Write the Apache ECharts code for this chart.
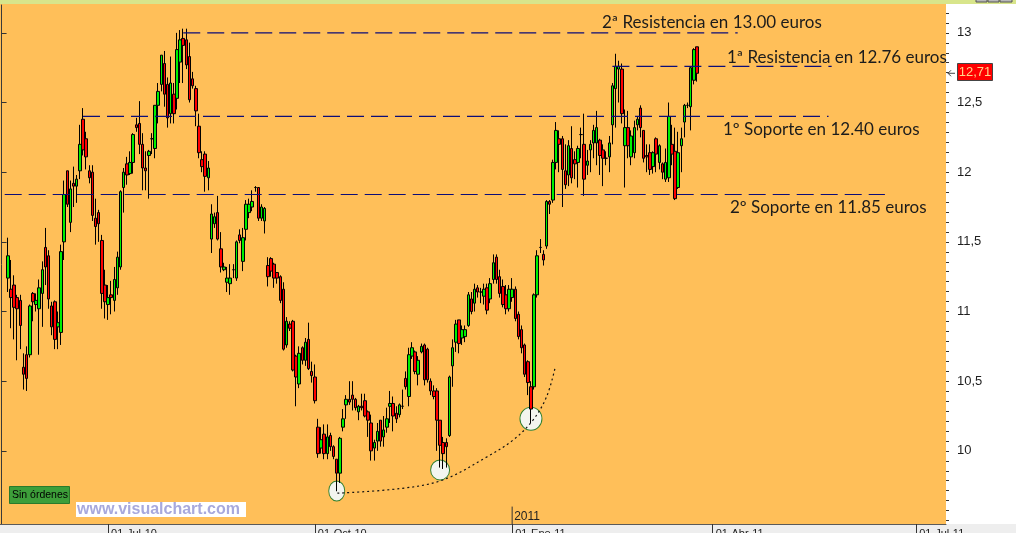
<!DOCTYPE html>
<html><head><meta charset="utf-8">
<script src="https://cdn.jsdelivr.net/npm/echarts@6/dist/echarts.min.js"></script>
<style>html,body{margin:0;padding:0;background:#fff;overflow:hidden}#c{width:1016px;height:533px}</style>
</head><body><div id="c"></div>
<script>
// ---- data ----
const open = [11.24,11.16,11.19,11.10,11.08,10.60,10.69,10.69,11.13,11.05,11.02,11.13,11.46,11.40,11.04,11.07,10.89,10.85,11.50,12.01,
11.64,11.92,11.90,12.01,12.38,12.24,12.01,12.00,11.67,11.71,11.51,11.19,11.05,11.12,11.08,11.17,11.32,11.89,12.06,11.99,
12.07,12.34,12.35,12.20,12.03,12.12,12.24,12.17,12.48,12.63,12.78,12.63,12.42,12.56,12.53,12.79,12.96,12.95,12.83,12.67,
12.60,12.33,12.09,12.13,11.96,11.52,11.63,11.71,11.45,11.30,11.21,11.20,11.30,11.24,11.55,11.36,11.59,11.71,11.75,11.89,
11.89,11.67,11.65,11.33,11.38,11.34,11.28,11.25,11.16,10.76,10.91,10.93,10.68,10.48,10.74,10.65,10.80,10.57,10.53,10.17,
10.02,10.12,9.98,10.11,10.03,9.94,9.84,10.17,10.33,10.37,10.40,10.37,10.28,10.32,10.36,10.28,10.20,10.02,10.07,10.22,
10.10,10.17,10.32,10.34,10.27,10.26,10.32,10.52,10.39,10.68,10.71,10.55,10.71,10.76,10.73,10.50,10.43,10.43,10.22,10.06,
10.06,10.11,10.61,10.78,10.94,10.81,10.82,10.90,11.09,11.06,11.17,11.14,11.11,11.17,11.09,11.23,11.39,11.25,11.18,11.12,
11.02,11.10,11.16,10.98,10.87,10.76,10.64,10.46,10.46,11.12,11.46,11.41,11.47,11.79,11.80,12.07,12.24,12.24,12.01,11.98,
12.17,12.09,12.07,12.27,12.20,12.05,12.16,12.21,12.21,12.23,12.16,12.10,12.11,12.34,12.60,12.74,12.74,12.19,12.32,12.11,
12.14,12.34,12.46,12.30,12.12,12.14,12.04,12.24,12.07,12.06,11.95,11.96,12.20,12.15,11.89,12.19,12.36,12.48,12.47,12.66,
12.90];
const close = [11.40,11.10,11.03,11.02,10.90,10.55,10.52,11.04,11.07,11.08,11.17,11.30,11.32,11.09,10.89,10.80,10.92,11.43,11.84,11.77,
11.88,11.90,11.95,12.20,12.16,12.11,11.96,11.69,11.61,11.63,11.13,11.07,11.10,11.10,11.23,11.39,11.86,12.00,11.98,12.07,
12.27,12.32,12.20,12.03,12.01,12.15,12.24,12.48,12.58,12.84,12.56,12.39,12.64,12.42,12.88,12.95,12.91,12.77,12.52,12.62,
12.44,12.14,12.04,11.97,12.03,11.70,11.68,11.52,11.32,11.32,11.24,11.24,11.30,11.50,11.51,11.53,11.77,11.77,11.79,11.89,
11.67,11.75,11.74,11.25,11.29,11.24,11.24,11.08,10.73,10.93,10.88,10.58,10.53,10.70,10.65,10.78,10.59,10.54,10.36,9.98,
10.08,9.98,10.10,10.03,9.96,9.84,10.09,10.23,10.37,10.35,10.37,10.31,10.32,10.31,10.25,10.22,10.00,10.06,10.14,10.07,
10.15,10.23,10.34,10.25,10.23,10.33,10.32,10.46,10.69,10.74,10.57,10.65,10.75,10.51,10.51,10.43,10.39,10.22,10.04,9.98,
10.03,10.53,10.74,10.91,10.77,10.87,10.87,11.12,11.00,11.16,11.14,11.14,11.16,11.01,11.20,11.35,11.23,11.13,11.05,11.02,
11.16,11.16,10.95,10.82,10.74,10.55,10.49,10.30,11.12,11.40,11.46,11.37,11.79,11.77,12.07,12.30,12.20,12.02,11.91,12.19,
11.96,12.06,12.17,12.27,11.95,12.08,12.20,12.30,12.32,12.12,12.10,12.10,12.21,12.62,12.76,12.76,12.42,12.32,12.19,12.26,
12.32,12.38,12.32,12.10,12.11,12.02,12.14,12.13,12.19,12.00,12.07,12.40,12.13,11.81,12.14,12.24,12.48,12.48,12.75,12.88,
12.71];
const low = [11.14,10.88,10.80,10.65,10.73,10.44,10.43,10.67,10.93,11.00,10.69,10.89,11.19,11.02,10.83,10.73,10.73,10.76,11.37,11.75,
11.57,11.75,11.78,11.95,12.12,12.02,11.92,11.65,11.48,11.50,11.02,10.95,10.94,10.98,11.00,11.12,11.30,11.71,11.91,11.98,
11.99,12.29,12.13,11.87,11.87,11.81,12.13,12.10,12.35,12.58,12.47,12.32,12.35,12.35,12.45,12.64,12.64,12.74,12.50,12.60,
12.33,12.10,12.00,11.86,11.87,11.42,11.60,11.51,11.28,11.29,11.14,11.12,11.24,11.22,11.49,11.29,11.51,11.67,11.72,11.86,
11.65,11.65,11.56,11.18,11.25,11.17,11.20,11.06,10.72,10.74,10.86,10.57,10.32,10.45,10.62,10.61,10.58,10.49,10.34,9.95,
9.98,9.94,9.94,10.00,9.94,9.71,9.77,10.14,10.23,10.33,10.29,10.29,10.22,10.29,10.24,10.10,9.93,9.93,10.00,10.03,
10.03,10.13,10.20,10.14,10.20,10.24,10.30,10.44,10.32,10.66,10.55,10.47,10.70,10.47,10.49,10.40,10.37,10.00,9.88,9.87,
9.88,10.10,10.46,10.71,10.70,10.76,10.78,10.89,10.98,11.00,11.10,11.06,11.05,10.98,11.06,11.20,11.20,11.10,11.03,10.98,
11.00,11.07,10.93,10.80,10.70,10.53,10.40,10.20,10.44,11.10,11.42,11.33,11.45,11.70,11.78,12.02,12.00,11.75,11.88,11.90,
11.92,11.95,11.89,12.10,11.83,11.98,12.00,12.10,12.05,11.98,11.90,12.05,12.00,12.20,12.32,12.50,12.35,11.89,12.10,12.05,
12.10,12.30,12.25,12.07,12.00,11.98,11.99,12.00,12.02,11.95,11.93,11.93,12.05,11.80,11.88,12.00,12.25,12.46,12.30,12.63,
12.65];
const high = [11.53,11.37,11.26,11.12,11.12,10.70,10.75,11.05,11.14,11.13,11.23,11.36,11.60,11.44,11.07,11.08,11.00,11.48,11.94,12.01,
11.94,12.04,11.98,12.34,12.46,12.29,12.05,12.05,11.81,11.73,11.55,11.30,11.19,11.22,11.32,11.43,11.87,12.03,12.11,12.15,
12.28,12.39,12.51,12.28,12.15,12.16,12.28,12.48,12.64,12.84,12.87,12.68,12.83,12.64,13.00,13.02,13.03,13.03,12.93,12.72,
12.62,12.42,12.15,12.15,12.08,11.77,11.71,11.83,11.57,11.35,11.32,11.34,11.34,11.51,11.59,11.60,11.80,11.81,11.87,11.90,
11.89,11.77,11.75,11.39,11.39,11.35,11.28,11.26,11.21,10.96,10.93,10.94,10.69,10.75,10.75,10.81,10.92,10.64,10.62,10.23,
10.17,10.19,10.19,10.13,10.04,9.94,10.10,10.30,10.40,10.50,10.50,10.38,10.33,10.41,10.41,10.29,10.26,10.08,10.20,10.22,
10.25,10.31,10.43,10.39,10.32,10.34,10.44,10.57,10.74,10.78,10.72,10.68,10.77,10.77,10.74,10.52,10.47,10.45,10.22,10.10,
10.09,10.54,10.80,10.94,10.94,10.90,10.90,11.14,11.14,11.20,11.19,11.17,11.20,11.20,11.24,11.41,11.41,11.30,11.23,11.19,
11.19,11.24,11.18,11.00,10.90,10.77,10.65,10.50,11.13,11.44,11.52,11.44,11.80,11.80,12.09,12.36,12.30,12.26,12.20,12.23,
12.33,12.15,12.19,12.32,12.42,12.16,12.23,12.34,12.44,12.24,12.20,12.15,12.26,12.64,12.85,12.80,12.78,12.45,12.44,12.30,
12.37,12.40,12.48,12.30,12.20,12.20,12.15,12.25,12.20,12.07,12.17,12.50,12.34,12.32,12.29,12.32,12.49,12.50,12.76,12.89,
12.90];

const firstSlot = 2;          // first trading slot that holds a candle
const slotCount = 302;        // trading-day slots across the plot (incl. future)
const quarterTicks = [34, 100, 163, 227, 292];
const quarterLabels = ['01-Jul-10', '01-Oct-10', '01-Ene-11', '01-Abr-11', '01-Jul-11'];
const yLabelValues = [10, 10.5, 11, 11.5, 12, 12.5, 13];
const yMin = 9.475, yMax = 13.2;

const levelValues = [13.00, 12.76, 12.40, 11.84];
const levelStarts = [58, 195, 26, 1];
const levelEnds   = [235, 265, 264, 282];
const levelTexts  = ['2ª Resistencia en 13.00 euros', '1ª Resistencia en 12.76 euros', '1º Soporte en 12.40 euros', '2º Soporte en 11.85 euros'];

const lowSlots  = [107, 140, 169];
const lowValues = [9.712, 9.863, 10.23];

const curveSlots  = [107.2, 127.2, 140.9, 154.9, 163.3, 169.7, 174.0, 176.7];
const curveValues = [9.696, 9.729, 9.791, 9.956, 10.078, 10.222, 10.389, 10.595];

const yearSlot = 163, yearText = '2011';

// ---- build ----
const slots = [];
for (let i = 0; i < slotCount; i++) slots.push(String(i));
const candles = [];
for (let i = 0; i < slotCount; i++) {
  const k = i - firstSlot;
  if (k >= 0 && k < open.length) candles.push([open[k], close[k], low[k], high[k]]);
  else candles.push('-');
}
const minorTicks = [];
for (let k = -7; k <= 45; k++) {
  const v = +(10 + k * 0.5 / 7).toFixed(4);
  if (v > yMin && v < yMax) minorTicks.push(v);
}
const circleSizes = [[16, 20], [19, 20], [22, 23]];

const chart = echarts.init(document.getElementById('c'), null, {renderer: 'canvas'});

const levelSeries = levelValues.map((v, i) => ({
  type: 'line', xAxisIndex: 1, yAxisIndex: 0, z: 5, symbol: 'none', silent: true,
  data: [[levelStarts[i], v], [levelEnds[i], v]],
  lineStyle: {color: '#0c0c78', width: 1.2, type: [17, 7]}
}));

const option = {
  animation: false,
  backgroundColor: '#FFBF59',
  grid: {left: 0, right: 70, top: 5, bottom: 9, containLabel: false, outerBoundsMode: 'none'},
  xAxis: [{
    type: 'category', data: slots, boundaryGap: true, position: 'bottom', z: 10,
    axisLine: {show: true, lineStyle: {color: '#5a5a5a', width: 1}},
    axisTick: {show: true, alignWithLabel: true, length: 9, lineStyle: {color: '#333'},
      interval: (idx) => quarterTicks.indexOf(idx) >= 0},
    axisLabel: {show: true, interval: (idx) => quarterTicks.indexOf(idx) >= 0,
      formatter: (val, idx) => { const q = quarterTicks.indexOf(+val); return q >= 0 ? quarterLabels[q] : ''; },
      align: 'left', margin: 4, padding: [0, 0, 0, 3], color: '#222', fontSize: 11, fontFamily: 'Liberation Sans'},
    splitLine: {show: false}
  }, {
    type: 'value', min: -0.5, max: slotCount - 0.5, show: false
  }],
  yAxis: [{
    type: 'value', position: 'right', min: yMin, max: yMax, z: 10,
    axisLine: {show: true, lineStyle: {color: '#3a3a3a', width: 1}},
    axisTick: {show: true, inside: false, length: 5, customValues: yLabelValues, lineStyle: {color: '#333'}},
    axisLabel: {show: true, customValues: yLabelValues, margin: 11, color: '#1e1e1e', fontSize: 13, fontFamily: 'Liberation Sans',
      formatter: (v) => String(v).replace('.', ',')},
    splitLine: {show: false}
  }, {
    type: 'value', position: 'right', min: yMin, max: yMax, z: 10,
    axisLine: {show: false},
    axisTick: {show: true, inside: false, length: 3, customValues: minorTicks, lineStyle: {color: '#333'}},
    axisLabel: {show: false},
    splitLine: {show: false}
  }],
  series: [{
    type: 'scatter', xAxisIndex: 1, yAxisIndex: 0, z: 1, silent: true,
    data: lowSlots.map((s, i) => ({value: [s, lowValues[i]], symbolSize: circleSizes[i]})),
    symbol: 'circle',
    itemStyle: {color: '#F3F5EF', borderColor: '#2E7F2E', borderWidth: 1, opacity: 1}
  }, {
    type: 'line', xAxisIndex: 1, yAxisIndex: 0, z: 2, symbol: 'none', smooth: 0.35, silent: true,
    data: curveSlots.map((s, i) => [s, curveValues[i]]),
    lineStyle: {color: '#111', width: 1.2, type: [2, 3]}
  }, {
    type: 'candlestick', xAxisIndex: 0, yAxisIndex: 0, z: 3, barWidth: 3,
    data: candles,
    itemStyle: {color: '#00F000', color0: '#FF0000', borderColor: '#000', borderColor0: '#000', borderColorDoji: '#000', borderWidth: 1}
  }, {
    type: 'line', xAxisIndex: 1, yAxisIndex: 0, z: 4, symbol: 'none', silent: true,
    data: [[yearSlot, yMin], [yearSlot, 9.6]],
    lineStyle: {color: '#333', width: 1}
  }].concat(levelSeries)
};
chart.setOption(option);

const lastClose = close[close.length - 1];
const py = chart.convertToPixel({yAxisIndex: 0}, lastClose);
const lvlY = levelValues.map(v => chart.convertToPixel({yAxisIndex: 0}, v));
const yearX = chart.convertToPixel({xAxisIndex: 1}, yearSlot);
const textFont = '17px Lato';
const txtOffsets = [[602, -10], [727, -9], [723, 13], [730, 13]];

chart.setOption({
  graphic: [
    {type: 'rect', z: -10, shape: {x: 0, y: 0, width: 1016, height: 4}, style: {fill: '#D8E58B'}},
    {type: 'rect', z: -10, shape: {x: 946, y: 4, width: 70, height: 520}, style: {fill: '#FFFFFF'}},
    {type: 'rect', z: -10, shape: {x: 0, y: 524, width: 1016, height: 9}, style: {fill: '#EEEEEE'}},
    {type: 'rect', z: 20, shape: {x: 976, y: -2, width: 11, height: 4}, style: {fill: '#B8B8B8', stroke: '#555', lineWidth: 1}},
    {type: 'rect', z: 20, shape: {x: 988, y: -2, width: 11, height: 4}, style: {fill: '#B8B8B8', stroke: '#555', lineWidth: 1}},
    {type: 'rect', z: 20, shape: {x: 1000, y: -2, width: 12, height: 4}, style: {fill: '#B8B8B8', stroke: '#555', lineWidth: 1}},
    // Sin órdenes
    {type: 'rect', z: 20, shape: {x: 9.5, y: 486.5, width: 60, height: 17}, style: {fill: '#3D9E3A', stroke: '#2B7A2B', lineWidth: 1}},
    {type: 'text', z: 21, x: 12, y: 495, style: {text: 'Sin órdenes', font: '10.5px "Liberation Sans"', fill: '#000', textVerticalAlign: 'middle'}},
    // watermark
    {type: 'rect', z: 20, shape: {x: 76, y: 502, width: 170, height: 15}, style: {fill: '#FFFFFF'}},
    {type: 'text', z: 21, x: 77, y: 509.5, style: {text: 'www.visualchart.com', font: 'bold 16px "Liberation Sans"', fill: '#A8A9DD', textVerticalAlign: 'middle'}},
    // year marker
    {type: 'text', z: 21, x: yearX + 2, y: 517, style: {text: yearText, font: '12px "Liberation Sans"', fill: '#222', textVerticalAlign: 'middle'}},
    // level annotations
    ...levelTexts.map((t, i) => ({type: 'text', z: 21, x: txtOffsets[i][0], y: lvlY[i] + txtOffsets[i][1],
      style: {text: t, font: textFont, fill: '#1c1c1c', textVerticalAlign: 'middle'}})),
    // last price tag
    {type: 'rect', z: 30, shape: {x: 957.5, y: Math.round(py) - 9.5, width: 35, height: 17}, style: {fill: '#FF0000', stroke: '#444', lineWidth: 1}},
    {type: 'text', z: 31, x: 975, y: Math.round(py) - 1, style: {text: String(lastClose.toFixed(2)).replace('.', ','), font: '13px "Liberation Sans"', fill: '#FFD68A', textAlign: 'center', textVerticalAlign: 'middle'}},
    {type: 'polyline', z: 31, shape: {points: [[951, py - 3], [948, py], [951, py + 3]]}, style: {stroke: '#444', lineWidth: 1, fill: null}},
    {type: 'line', z: 31, shape: {x1: 948, y1: py, x2: 955, y2: py}, style: {stroke: '#444', lineWidth: 1}}
  ]
});
</script>
</body></html>
